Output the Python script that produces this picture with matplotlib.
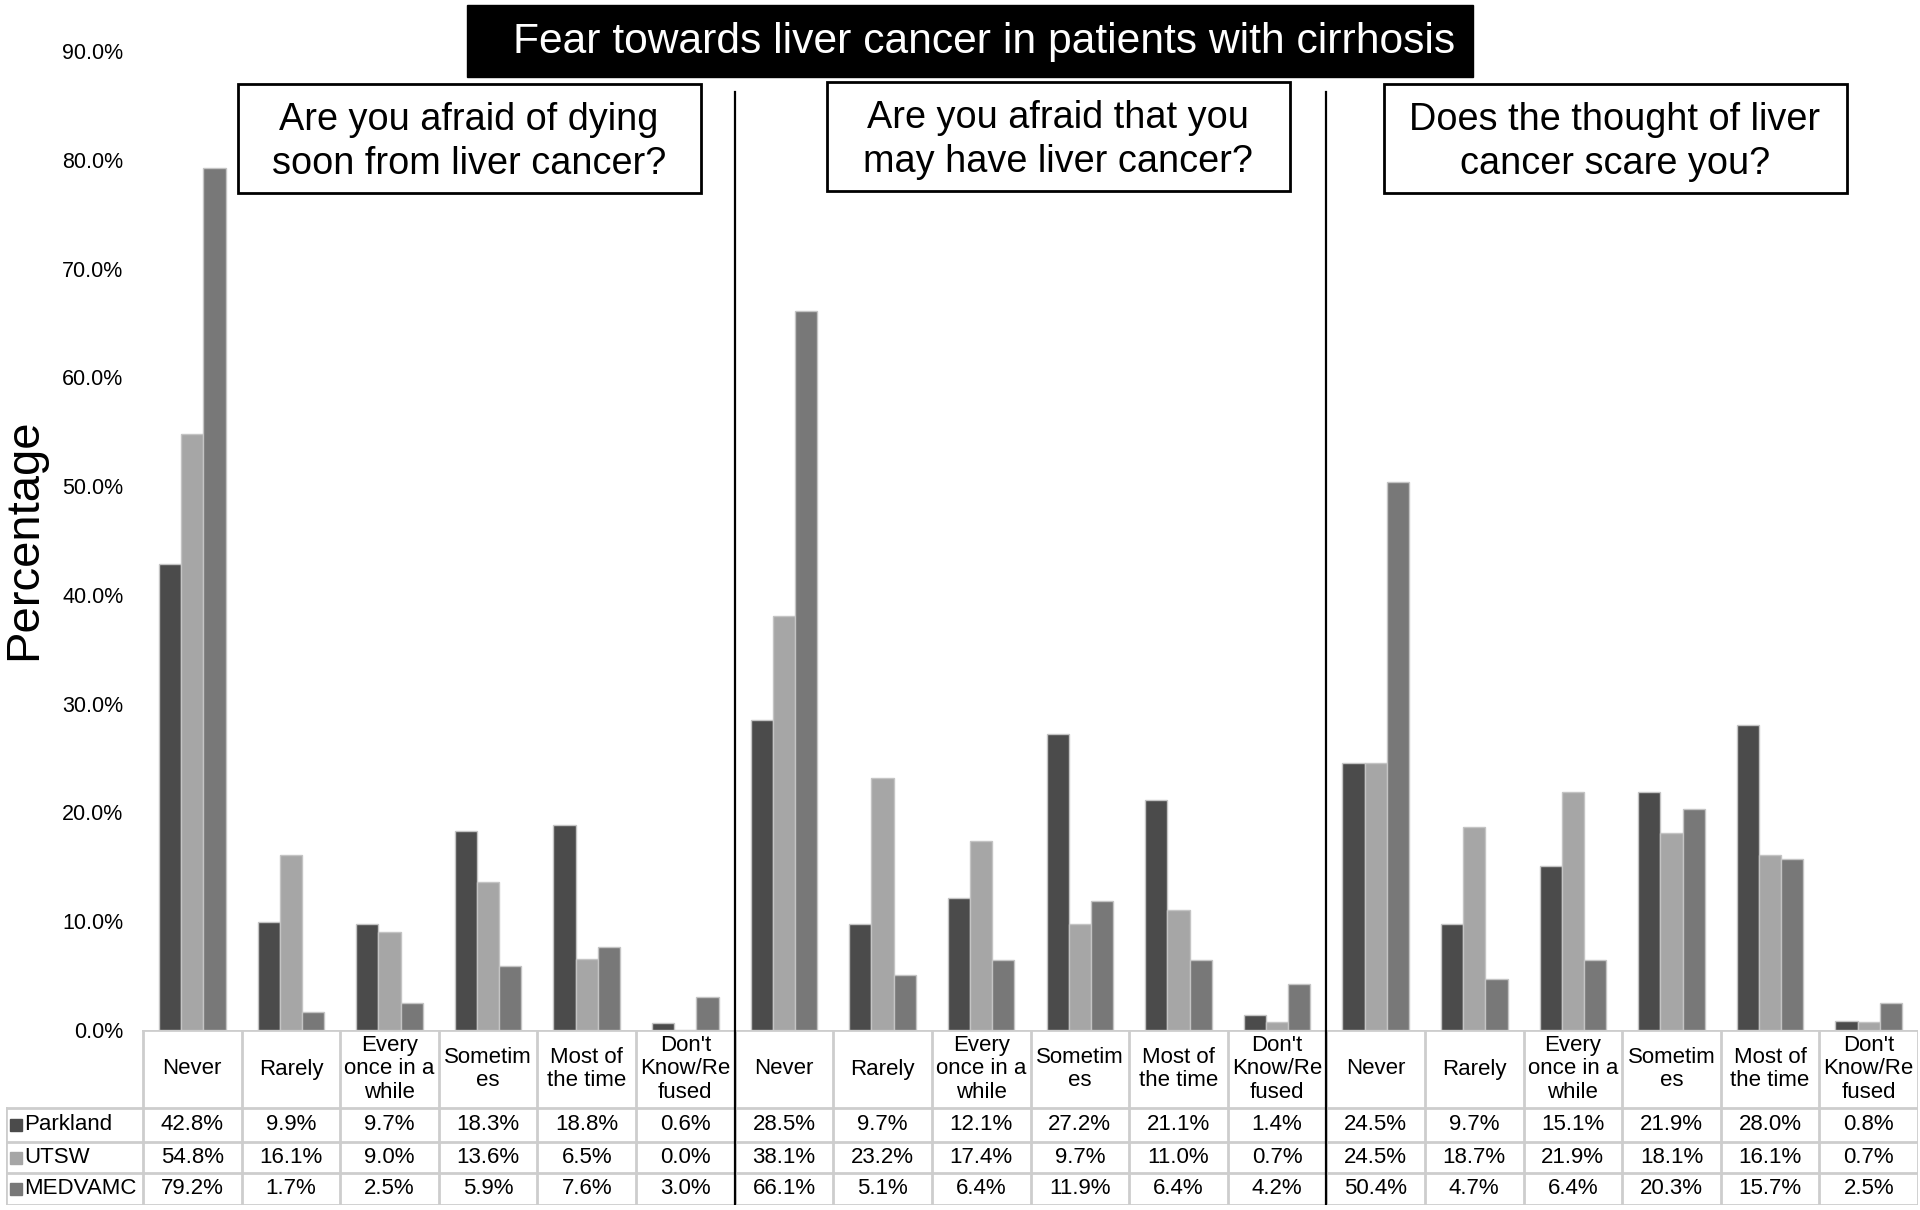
import numpy as np
import matplotlib.pyplot as plt
from matplotlib.patches import Rectangle

plt.rcParams['font.family'] = ['Liberation Sans', 'DejaVu Sans']

# Datos
respuestas = ['Never', 'Rarely', 'Every\nonce in a\nwhile', 'Sometim\nes',
              'Most of\nthe time', "Don't\nKnow/Re\nfused"]
preguntas = ['Are you afraid of dying\nsoon from liver cancer?',
             'Are you afraid that you\nmay have liver cancer?',
             'Does the thought of liver\ncancer scare you?']
sitios = ['Parkland', 'UTSW', 'MEDVAMC']
colores = ['#4b4b4b', '#a6a6a6', '#787878']

parkland = [42.8, 9.9, 9.7, 18.3, 18.8, 0.6,
            28.5, 9.7, 12.1, 27.2, 21.1, 1.4,
            24.5, 9.7, 15.1, 21.9, 28.0, 0.8]
utsw = [54.8, 16.1, 9.0, 13.6, 6.5, 0.0,
        38.1, 23.2, 17.4, 9.7, 11.0, 0.7,
        24.5, 18.7, 21.9, 18.1, 16.1, 0.7]
medvamc = [79.2, 1.7, 2.5, 5.9, 7.6, 3.0,
           66.1, 5.1, 6.4, 11.9, 6.4, 4.2,
           50.4, 4.7, 6.4, 20.3, 15.7, 2.5]
series = [parkland, utsw, medvamc]

W, H = 1920, 1210
fig = plt.figure(figsize=(W / 100, H / 100), dpi=100)

# Grafico de barras
x0, x1, ytop, ybot = 143, 1918, 51, 1030
ax = fig.add_axes([x0 / W, 1 - ybot / H, (x1 - x0) / W, (ybot - ytop) / H])
n = len(parkland)
x = np.arange(n)
bw = 0.225
for k, (vals, c) in enumerate(zip(series, colores)):
    ax.bar(x + (k - 1) * bw, vals, bw, color=c, edgecolor='#c4c4c4', linewidth=1, zorder=2)
ax.set_xlim(-0.5, n - 0.5)
ax.set_ylim(0, 90)
ticks = np.arange(0, 91, 10)
ax.set_yticks(ticks)
ax.set_yticklabels([f'{t:.1f}%' for t in ticks], fontsize=15.5)
ax.tick_params(axis='y', length=0, pad=14)
ax.set_xticks([])
for s in ax.spines.values():
    s.set_visible(False)
for sep in [5.5, 11.5]:
    ax.plot([sep, sep], [0, 86.2], color='black', lw=1.6, clip_on=False)

fig.text(24 / W, 1 - 539 / H, 'Percentage', rotation=90, ha='center', va='center', fontsize=34)

# Tabla
cat_w = (x1 - x0) / n
leg_w = (x0 - 6) / cat_w
tax = fig.add_axes([6 / W, 1 - 1205 / H, (x1 - 6) / W, (1205 - ybot) / H])
tax.set_xlim(-0.5 - leg_w, n - 0.5)
filas = [0, 78, 112, 143, 175]
tax.set_ylim(filas[-1], 0)
tax.axis('off')
gris = '#cdcdcd'
tax.plot([-0.5, n - 0.5], [0, 0], color=gris, lw=2)
for yy in filas[1:]:
    tax.plot([-0.5 - leg_w, n - 0.5], [yy, yy], color=gris, lw=2)
tax.plot([-0.5 - leg_w] * 2, [filas[1], filas[-1]], color=gris, lw=2)
for i in range(n + 1):
    tax.plot([i - 0.5] * 2, [0, filas[-1]], color=gris, lw=2)
for sep in [5.5, 11.5]:
    tax.plot([sep, sep], [0, filas[-1]], color='black', lw=1.6)

for i in range(n):
    tax.text(i, filas[1] / 2, respuestas[i % 6], ha='center', va='center',
             fontsize=16, linespacing=1.15)
for r, (nombre, vals, c) in enumerate(zip(sitios, series, colores)):
    yc = (filas[r + 1] + filas[r + 2]) / 2
    tax.plot(-0.5 - leg_w + 0.1, yc, marker='s', ms=8, color=c, clip_on=False)
    tax.text(-0.5 - leg_w + 0.18, yc, nombre, ha='left', va='center', fontsize=16)
    for i, v in enumerate(vals):
        tax.text(i, yc, f'{v:.1f}%', ha='center', va='center', fontsize=16)

# Titulo y subtitulos
fig.add_artist(Rectangle((467 / W, 1 - 77 / H), (1473 - 467) / W, 72 / H,
                         transform=fig.transFigure, facecolor='black', edgecolor='black'))
fig.text(984 / W, 1 - 42 / H, 'Fear towards liver cancer in patients with cirrhosis',
         color='white', ha='center', va='center', fontsize=30.7)

cajas = [(238, 84), (827, 82), (1384, 84)]
for (bx, by), q in zip(cajas, preguntas):
    fig.add_artist(Rectangle((bx / W, 1 - (by + 109) / H), 463 / W, 109 / H,
                             transform=fig.transFigure, facecolor='white',
                             edgecolor='black', lw=2))
    fig.text((bx + 231) / W, 1 - (by + 58) / H, q, ha='center', va='center',
             fontsize=27.3, linespacing=1.28)

fig.savefig('out.png', dpi=100)
